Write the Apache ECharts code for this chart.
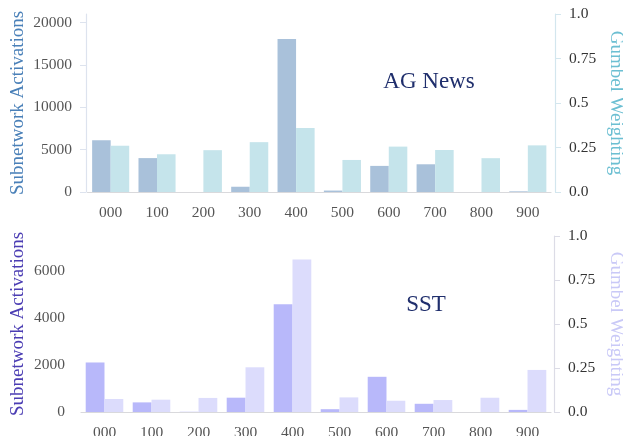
<!DOCTYPE html>
<html>
<head>
<meta charset="utf-8">
<script src="https://cdn.jsdelivr.net/npm/echarts@6/dist/echarts.min.js"></script>
<style>
  html, body { margin: 0; padding: 0; background: #ffffff; }
  #chart { width: 623px; height: 436px; }
</style>
</head>
<body>
<div id="chart"></div>
<script>
// Subnetwork buckets along the x axis
const categories = ['000', '100', '200', '300', '400', '500', '600', '700', '800', '900'];

// AG News: activation counts (left axis) and Gumbel weights (right axis)
const agActivations = [6100, 4000, 0, 620, 18050, 170, 3080, 3270, 0, 80];
const agGumbel = [0.26, 0.212, 0.235, 0.28, 0.36, 0.18, 0.255, 0.236, 0.19, 0.262];

// SST: activation counts (left axis) and Gumbel weights (right axis)
const sstActivations = [2110, 410, 10, 610, 4590, 120, 1500, 350, 0, 90];
const sstGumbel = [0.074, 0.07, 0.08, 0.254, 0.866, 0.083, 0.064, 0.068, 0.081, 0.239];

// Tick values
const agLeftTicks = [0, 5000, 10000, 15000, 20000];
const sstLeftTicks = [0, 2000, 4000, 6000];
const gumbelTicks = [0, 0.25, 0.5, 0.75, 1.0];

const FONT = "'Liberation Serif', 'DejaVu Serif', serif";

const plainFmt = v => String(v);
const gumbelFmt = v => (v === 0 ? '0.0' : v === 1 ? '1.0' : String(v));

function xAxisFor(gridIndex) {
  return {
    type: 'category',
    gridIndex: gridIndex,
    data: categories,
    axisLine: { show: true, lineStyle: { color: '#d9d9dc', width: 1.2 } },
    axisTick: { show: false },
    axisLabel: { fontFamily: FONT, fontSize: 15.5, color: '#555', margin: 12.5 },
    splitLine: { show: false }
  };
}

function leftAxis(gridIndex, max, ticks, nameColor, showSpine, nameGap) {
  return {
    type: 'value',
    gridIndex: gridIndex,
    position: 'left',
    min: 0,
    max: max,
    offset: showSpine ? 1.5 : 0,
    name: 'Subnetwork Activations',
    nameLocation: 'middle',
    nameGap: nameGap,
    nameRotate: 90,
    nameMoveOverlap: false,
    nameTextStyle: { fontFamily: FONT, fontSize: 19, color: nameColor },
    axisLine: { show: showSpine, lineStyle: { color: '#dde3ee', width: 1.2 } },
    axisTick: { show: showSpine, length: 6, customValues: ticks, lineStyle: { color: '#dde3ee' } },
    axisLabel: {
      fontFamily: FONT, fontSize: 15.5, color: '#555', margin: showSpine ? 14 : 16,
      customValues: ticks, formatter: plainFmt
    },
    splitLine: { show: false }
  };
}

function rightAxis(gridIndex, nameColor, spineColor, offset, nameGap) {
  return {
    type: 'value',
    gridIndex: gridIndex,
    position: 'right',
    min: 0,
    max: 1,
    offset: offset,
    name: 'Gumbel Weighting',
    nameLocation: 'middle',
    nameGap: nameGap,
    nameRotate: -90,
    nameMoveOverlap: false,
    nameTextStyle: { fontFamily: FONT, fontSize: 19, color: nameColor },
    axisLine: { show: true, lineStyle: { color: spineColor, width: 1.2 } },
    axisTick: { show: true, length: 6, customValues: gumbelTicks, lineStyle: { color: spineColor } },
    axisLabel: {
      fontFamily: FONT, fontSize: 15.5, color: '#333', margin: 14,
      customValues: gumbelTicks, formatter: gumbelFmt
    },
    splitLine: { show: false }
  };
}

function barSeries(xi, yi, data, color) {
  return {
    type: 'bar',
    xAxisIndex: xi,
    yAxisIndex: yi,
    data: data,
    barGap: '0%',
    barCategoryGap: '20%',
    itemStyle: { color: color },
    emphasis: { disabled: true },
    silent: true
  };
}

const chart = echarts.init(document.getElementById('chart'), null, { renderer: 'canvas' });

chart.setOption({
  animation: false,
  backgroundColor: '#ffffff',
  grid: [
    { left: 87.5, right: 72, top: 14, height: 178, containLabel: false, outerBoundsMode: 'none' },
    { left: 81, right: 72, top: 236, height: 176, containLabel: false, outerBoundsMode: 'none' }
  ],
  xAxis: [xAxisFor(0), xAxisFor(1)],
  yAxis: [
    leftAxis(0, 21000, agLeftTicks, '#4a80b8', true, 58.5),
    rightAxis(0, '#6cbfd2', '#d3e6ee', 4, 51),
    leftAxis(1, 7500, sstLeftTicks, '#4b3db3', false, 53.5),
    rightAxis(1, '#c9c9f7', '#dcdce6', 3, 52)
  ],
  series: [
    barSeries(0, 0, agActivations, '#a9c1da'),
    barSeries(0, 1, agGumbel, '#c5e4eb'),
    barSeries(1, 2, sstActivations, '#b8b8fa'),
    barSeries(1, 3, sstGumbel, '#dcdcfc')
  ],
  graphic: [
    {
      type: 'text', x: 429, y: 82,
      style: { text: 'AG News', font: "23px 'Liberation Serif', serif", fill: '#1f2e6c', align: 'center', verticalAlign: 'middle' }
    },
    {
      type: 'text', x: 426, y: 305,
      style: { text: 'SST', font: "23px 'Liberation Serif', serif", fill: '#1f2e6c', align: 'center', verticalAlign: 'middle' }
    }
  ]
});
</script>
</body>
</html>
